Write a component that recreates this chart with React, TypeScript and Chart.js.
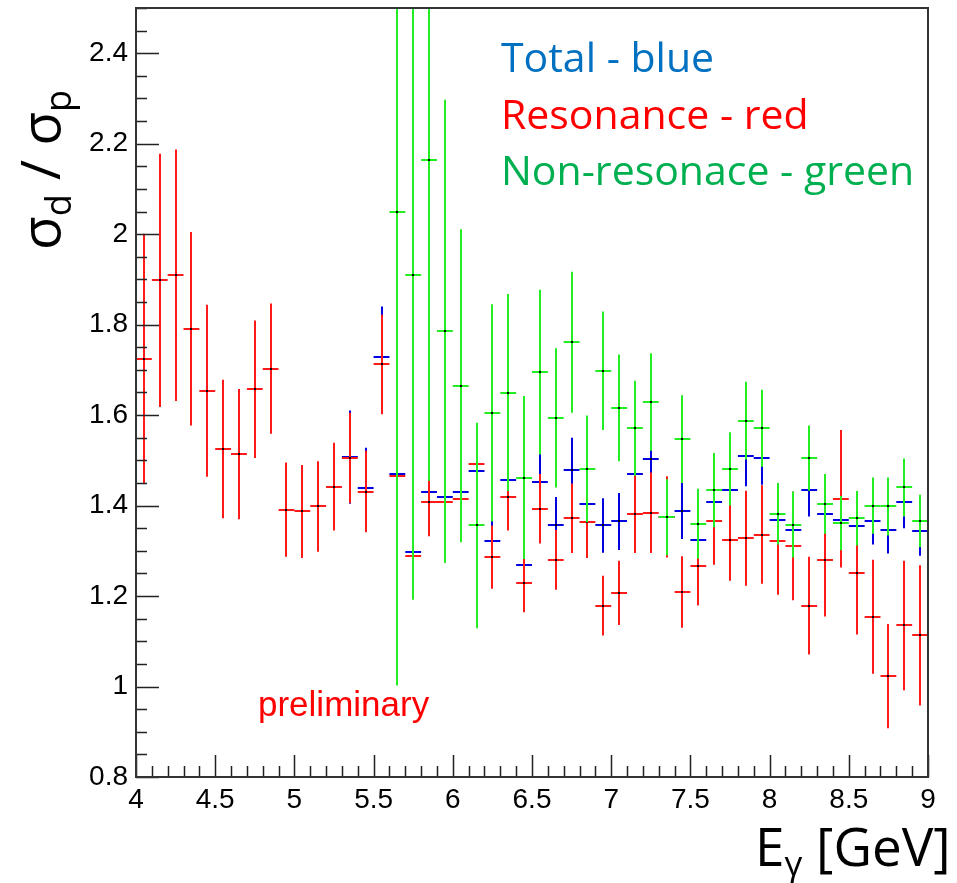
import React, { useEffect, useRef } from 'react';
import { Chart, registerables } from 'chart.js';

Chart.register(...registerables);

// ---------- data ----------
const binHalfWidth = 0.05;

const redX = [
  4.05, 4.15, 4.25, 4.35, 4.45, 4.55, 4.65, 4.75, 4.85, 4.95,
  5.05, 5.15, 5.25, 5.35, 5.45, 5.55, 5.65, 5.75, 5.85, 5.95,
  6.05, 6.15, 6.25, 6.35, 6.45, 6.55, 6.65, 6.75, 6.85, 6.95,
  7.05, 7.15, 7.25, 7.35, 7.45, 7.55, 7.65, 7.75, 7.85, 7.95,
  8.05, 8.15, 8.25, 8.35, 8.45, 8.55, 8.65, 8.75, 8.85, 8.95,
];
const redY = [
  1.725, 1.898, 1.909, 1.791, 1.654, 1.525, 1.514, 1.657, 1.703, 1.391,
  1.387, 1.398, 1.442, 1.505, 1.431, 1.712, 1.466, 1.288, 1.409, 1.407,
  1.415, 1.493, 1.286, 1.420, 1.229, 1.393, 1.280, 1.372, 1.363, 1.179,
  1.207, 1.382, 1.384, 1.375, 1.209, 1.267, 1.366, 1.325, 1.328, 1.336,
  1.322, 1.311, 1.179, 1.280, 1.415, 1.251, 1.154, 1.023, 1.135, 1.113,
];
const redErr = [
  0.276, 0.280, 0.278, 0.214, 0.190, 0.153, 0.144, 0.152, 0.144, 0.104,
  0.103, 0.100, 0.097, 0.100, 0.090, 0.110, 0.100, 0.080, 0.077, 0.075,
  0.075, 0.075, 0.070, 0.075, 0.065, 0.077, 0.066, 0.077, 0.079, 0.066,
  0.071, 0.087, 0.089, 0.090, 0.079, 0.088, 0.097, 0.091, 0.105, 0.109,
  0.119, 0.120, 0.108, 0.125, 0.152, 0.136, 0.126, 0.115, 0.143, 0.155,
];

const blueX = [
  5.35, 5.45, 5.55, 5.65, 5.75, 5.85, 5.95, 6.05, 6.15, 6.25,
  6.35, 6.45, 6.55, 6.65, 6.75, 6.85, 6.95, 7.05, 7.15, 7.25,
  7.35, 7.45, 7.55, 7.65, 7.75, 7.85, 7.95, 8.05, 8.15, 8.25,
  8.35, 8.45, 8.55, 8.65, 8.75, 8.85, 8.95,
];
const blueY = [
  1.507, 1.438, 1.728, 1.470, 1.297, 1.431, 1.420, 1.431, 1.476, 1.322,
  1.457, 1.268, 1.453, 1.356, 1.478, 1.404, 1.356, 1.365, 1.470, 1.504,
  1.375, 1.389, 1.325, 1.409, 1.434, 1.509, 1.506, 1.369, 1.347, 1.434,
  1.382, 1.369, 1.354, 1.366, 1.347, 1.407, 1.344,
];
const blueErr = [
  0.103, 0.090, 0.112, 0.100, 0.080, 0.070, 0.070, 0.070, 0.070, 0.060,
  0.060, 0.060, 0.062, 0.063, 0.072, 0.060, 0.060, 0.063, 0.060, 0.060,
  0.060, 0.063, 0.060, 0.060, 0.060, 0.066, 0.060, 0.060, 0.060, 0.058,
  0.060, 0.060, 0.060, 0.052, 0.053, 0.057, 0.055,
];

const greenX = [
  5.65, 5.75, 5.85, 5.95, 6.05, 6.15, 6.25, 6.35, 6.45, 6.55,
  6.65, 6.75, 6.85, 6.95, 7.05, 7.15, 7.25, 7.35, 7.45, 7.55,
  7.65, 7.75, 7.85, 7.95, 8.05, 8.15, 8.25, 8.35, 8.45, 8.55,
  8.65, 8.75, 8.85, 8.95,
];
const greenY = [
  2.049, 1.909, 2.164, 1.785, 1.665, 1.356, 1.605, 1.650, 1.462, 1.695,
  1.594, 1.761, 1.481, 1.698, 1.616, 1.571, 1.629, 1.374, 1.547, 1.360,
  1.434, 1.481, 1.588, 1.571, 1.382, 1.358, 1.505, 1.404, 1.361, 1.372,
  1.400, 1.398, 1.440, 1.366,
];
const greenErr = [
  1.047, 0.717, 0.709, 0.512, 0.346, 0.227, 0.240, 0.218, 0.180, 0.182,
  0.154, 0.156, 0.118, 0.131, 0.118, 0.105, 0.108, 0.084, 0.097, 0.077,
  0.082, 0.081, 0.086, 0.085, 0.068, 0.073, 0.072, 0.066, 0.060, 0.060,
  0.062, 0.064, 0.064, 0.058,
];

const xTickValues = [4, 4.5, 5, 5.5, 6, 6.5, 7, 7.5, 8, 8.5, 9];
const xTickLabels = ['4', '4.5', '5', '5.5', '6', '6.5', '7', '7.5', '8', '8.5', '9'];
const yTickValues = [0.8, 1.0, 1.2, 1.4, 1.6, 1.8, 2.0, 2.2, 2.4];
const yTickLabels = ['0.8', '1', '1.2', '1.4', '1.6', '1.8', '2', '2.2', '2.4'];

const legendLines = [
  { text: 'Total - blue', color: '#0070C0' },
  { text: 'Resonance - red', color: '#FF0000' },
  { text: 'Non-resonace - green', color: '#00B050' },
];

const COLORS = { blue: '#0000e0', red: '#ff1a1a', green: '#22ee22' };

function buildPoints(xs: number[], ys: number[], es: number[]) {
  return xs.map((x, i) => ({ x, y: ys[i], ex: binHalfWidth, ey: es[i] }));
}

const errorBarPlugin = {
  id: 'errorBars',
  afterDatasetsDraw(chart: any) {
    const { ctx, chartArea, scales } = chart;
    const xs = scales.x;
    const ys = scales.y;
    ctx.save();
    ctx.beginPath();
    ctx.rect(chartArea.left, chartArea.top, chartArea.right - chartArea.left, chartArea.bottom - chartArea.top);
    ctx.clip();
    chart.data.datasets.forEach((ds: any) => {
      ctx.strokeStyle = ds.borderColor;
      ctx.lineWidth = 2;
      ds.data.forEach((p: any) => {
        const px = Math.round(xs.getPixelForValue(p.x));
        const py = Math.round(ys.getPixelForValue(p.y));
        const xl = xs.getPixelForValue(p.x - p.ex);
        const xr = xs.getPixelForValue(p.x + p.ex);
        const yt = ys.getPixelForValue(p.y + p.ey);
        const yb = ys.getPixelForValue(p.y - p.ey);
        ctx.beginPath();
        ctx.moveTo(xl, py);
        ctx.lineTo(xr, py);
        ctx.moveTo(px, yt);
        ctx.lineTo(px, yb);
        ctx.stroke();
        ctx.fillStyle = '#000';
        ctx.fillRect(px - 1, py - 1, 2, 2);
      });
    });
    ctx.restore();
  },
};

const framePlugin = {
  id: 'frameTicks',
  afterDraw(chart: any) {
    const { ctx, chartArea, scales } = chart;
    const xs = scales.x;
    const ys = scales.y;
    const { left, right, top, bottom } = chartArea;
    ctx.save();
    ctx.strokeStyle = '#222';
    ctx.lineWidth = 1.5;
    ctx.beginPath();
    // y ticks every 0.05, major every 0.2
    for (let k = 0; k <= 34; k++) {
      const v = 0.8 + k * 0.05;
      const py = Math.round(ys.getPixelForValue(v)) + 0.5;
      const len = k % 4 === 0 ? 23 : 11;
      ctx.moveTo(left, py);
      ctx.lineTo(left + len, py);
    }
    // x ticks every 0.1, major every 0.5
    for (let k = 0; k <= 50; k++) {
      const v = 4 + k * 0.1;
      const px = Math.round(xs.getPixelForValue(v)) + 0.5;
      const len = k % 5 === 0 ? 22 : 11;
      ctx.moveTo(px, bottom);
      ctx.lineTo(px, bottom - len);
    }
    ctx.stroke();
    ctx.strokeStyle = '#333';
    ctx.lineWidth = 2;
    ctx.strokeRect(left, top, right - left, bottom - top);

    // legend annotations
    ctx.textAlign = 'left';
    ctx.textBaseline = 'alphabetic';
    ctx.font = '41px "Open Sans"';
    legendLines.forEach((l, i) => {
      ctx.fillStyle = l.color;
      ctx.fillText(l.text, 501, 72 + i * 56.7);
    });

    // preliminary
    ctx.font = '35px "Liberation Sans"';
    ctx.fillStyle = '#ff0000';
    ctx.fillText('preliminary', 258, 716);

    // x title: E_gamma [GeV]
    ctx.fillStyle = '#000';
    let x = 755;
    const base = 866;
    ctx.font = '53px "Open Sans"';
    ctx.fillText('E', x, base);
    x += ctx.measureText('E').width;
    ctx.font = '35px "Open Sans"';
    ctx.fillText('\u03B3', x, base + 10);
    x += ctx.measureText('\u03B3').width;
    ctx.font = '53px "Open Sans"';
    ctx.fillText(' [GeV]', x, base);

    // y title: sigma_d / sigma_p (rotated)
    ctx.translate(60, 250);
    ctx.rotate(-Math.PI / 2);
    let t = 0;
    const big = '55px "Open Sans"';
    const small = '36px "Open Sans"';
    ctx.font = big;
    ctx.fillText('\u03C3', t, 0);
    t += ctx.measureText('\u03C3').width;
    ctx.font = small;
    ctx.fillText('d', t, 11);
    t += ctx.measureText('d').width;
    ctx.font = big;
    ctx.fillText(' / \u03C3', t, 0);
    t += ctx.measureText(' / \u03C3').width;
    ctx.font = small;
    ctx.fillText('p', t, 11);
    ctx.restore();
  },
};

export default function App() {
  const canvasRef = useRef<HTMLCanvasElement | null>(null);

  useEffect(() => {
    if (!canvasRef.current) return;
    const chart = new Chart(canvasRef.current, {
      type: 'scatter',
      data: {
        datasets: [
          { label: 'Total', data: buildPoints(blueX, blueY, blueErr) as any, borderColor: COLORS.blue, backgroundColor: COLORS.blue, pointRadius: 0, showLine: false },
          { label: 'Resonance', data: buildPoints(redX, redY, redErr) as any, borderColor: COLORS.red, backgroundColor: COLORS.red, pointRadius: 0, showLine: false },
          { label: 'Non-resonance', data: buildPoints(greenX, greenY, greenErr) as any, borderColor: COLORS.green, backgroundColor: COLORS.green, pointRadius: 0, showLine: false },
        ],
      },
      options: {
        responsive: false,
        animation: false,
        devicePixelRatio: 1,
        layout: { padding: { left: 0, top: 8, right: 29, bottom: 0 } },
        plugins: { legend: { display: false }, tooltip: { enabled: false }, title: { display: false } },
        events: [],
        scales: {
          x: {
            type: 'linear',
            min: 4,
            max: 9,
            grid: { display: false, drawTicks: false },
            border: { display: false },
            afterBuildTicks: (scale: any) => {
              scale.ticks = xTickValues.map((v) => ({ value: v }));
            },
            afterFit: (scale: any) => {
              scale.height = 106;
              scale.paddingLeft = 0;
              scale.paddingRight = 0;
            },
            ticks: {
              autoSkip: false,
              maxRotation: 0,
              padding: 6,
              color: '#000',
              font: { family: '"Liberation Sans", Arial, sans-serif', size: 28 },
              callback: (v: any) => {
                const i = xTickValues.indexOf(Number(v));
                return i >= 0 ? xTickLabels[i] : '';
              },
            },
          },
          y: {
            type: 'linear',
            min: 0.8,
            max: 2.5,
            grid: { display: false, drawTicks: false },
            border: { display: false },
            afterBuildTicks: (scale: any) => {
              scale.ticks = yTickValues.map((v) => ({ value: v }));
            },
            afterFit: (scale: any) => {
              scale.width = 136;
              scale.paddingTop = 0;
              scale.paddingBottom = 0;
            },
            ticks: {
              autoSkip: false,
              padding: 8,
              color: '#000',
              font: { family: '"Liberation Sans", Arial, sans-serif', size: 28 },
              callback: (v: any) => {
                const n = Number(v);
                const i = yTickValues.findIndex((t) => Math.abs(t - n) < 1e-6);
                return i >= 0 ? yTickLabels[i] : '';
              },
            },
          },
        },
      },
      plugins: [errorBarPlugin, framePlugin],
    });
    return () => chart.destroy();
  }, []);

  return (
    <div style={{ position: 'absolute', left: 0, top: 0, width: 957, height: 883, background: '#fff' }}>
      <canvas ref={canvasRef} width={957} height={883} />
    </div>
  );
}
